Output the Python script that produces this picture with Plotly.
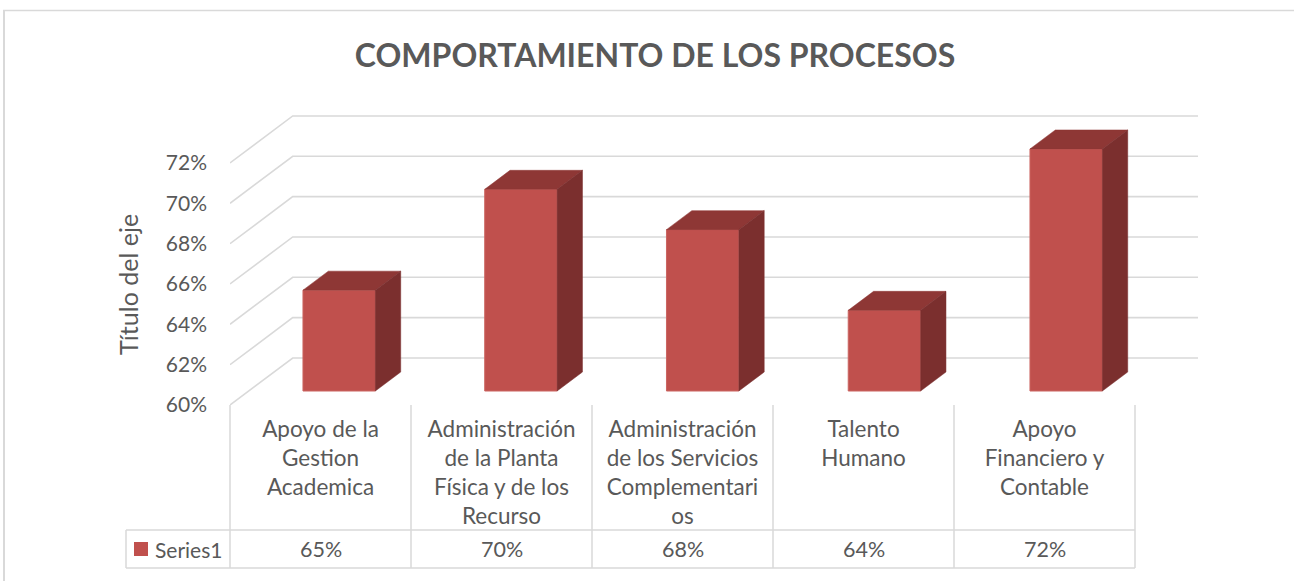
import plotly.graph_objects as go

categories = [
    "Apoyo de la<br>Gestion<br>Academica",
    "Administración<br>de la Planta<br>Física y de los<br>Recurso",
    "Administración<br>de los Servicios<br>Complementari<br>os",
    "Talento<br>Humano",
    "Apoyo<br>Financiero y<br>Contable",
]
values = [65, 70, 68, 64, 72]
value_labels = ["65%", "70%", "68%", "64%", "72%"]
y_ticks = [60, 62, 64, 66, 68, 70, 72]
y_tick_labels = ["60%", "62%", "64%", "66%", "68%", "70%", "72%"]
series_name = "Series1"

W, H = 1294, 581
ML, MR, MT, MB = 230, 96, 100, 176
PW, PH = W - ML - MR, H - MT - MB
COL = 181.0
BAR_STEP = 181.75 / COL
PCT = 20.17
DX, DY = 62.7 / COL, 47 / PCT
BAR_W = 0.4
D0, D1 = 14 / 47, 33 / 47
FONT = "Lato"
TXT = "#595959"
GRID = "#D9D9D9"


def px(x):
    return (x - ML) / PW


def py(y):
    return (H - MB - y) / PH


fig = go.Figure()

centers = [i + 0.5 for i in range(len(values))]
bar_x = [0.5 + D0 * DX + i * BAR_STEP for i in range(len(values))]
fig.add_trace(go.Bar(
    x=bar_x,
    y=[v - 60 for v in values],
    base=60 + D0 * DY,
    width=BAR_W,
    marker=dict(color="#C0504D", line=dict(color="#CB6461", width=1)),
    name=series_name, showlegend=False))

for c, v in zip(bar_x, values):
    xl = c - BAR_W / 2
    xr = xl + BAR_W
    top = v + D0 * DY
    bot = 60 + D0 * DY
    ox, oy = (D1 - D0) * DX * 1.0, (D1 - D0) * DY
    fig.add_trace(go.Scatter(
        x=[xl, xl + ox, xr + ox, xr, xl], y=[top, top + oy, top + oy, top, top],
        mode="lines", fill="toself", fillcolor="#8E3735",
        line=dict(color="#8E3735", width=0.5), showlegend=False, hoverinfo="skip"))
    fig.add_trace(go.Scatter(
        x=[xr, xr + ox, xr + ox, xr, xr], y=[top, top + oy, bot + oy, bot, top],
        mode="lines", fill="toself", fillcolor="#7B2F2E",
        line=dict(color="#7B2F2E", width=0.5), showlegend=False, hoverinfo="skip"))

shapes = []
for t in y_ticks:
    shapes.append(dict(type="path", xref="x", yref="y", layer="below",
                       path=f"M 0 {t} L {DX} {t + DY} L {PW / COL} {t + DY}",
                       line=dict(color=GRID, width=1.6)))
line = dict(color=GRID, width=1.5)
shapes.append(dict(type="line", xref="paper", yref="paper", x0=px(126), x1=px(1135),
                   y0=py(530), y1=py(530), line=line))
shapes.append(dict(type="line", xref="paper", yref="paper", x0=px(126), x1=px(1135),
                   y0=py(568), y1=py(568), line=line))
shapes.append(dict(type="line", xref="paper", yref="paper", x0=px(126), x1=px(126),
                   y0=py(530), y1=py(568), line=line))
for i in range(len(values) + 1):
    x = ML + i * COL
    shapes.append(dict(type="line", xref="paper", yref="paper", x0=px(x), x1=px(x),
                       y0=py(405), y1=py(568), line=line))
shapes.append(dict(type="rect", xref="paper", yref="paper", x0=px(134), x1=px(148),
                   y0=py(556), y1=py(542), fillcolor="#C0504D", line=dict(width=0)))
shapes.append(dict(type="line", xref="paper", yref="paper", x0=px(4), x1=px(4),
                   y0=py(10), y1=py(581), line=dict(color=GRID, width=2)))
shapes.append(dict(type="line", xref="paper", yref="paper", x0=px(3), x1=px(1294),
                   y0=py(10.5), y1=py(10.5), line=dict(color=GRID, width=1.5)))

annotations = [
    dict(x=c, xref="x", y=py(549), yref="paper", text=t, showarrow=False,
         font=dict(family=FONT, size=21.5, color=TXT), xanchor="center", yanchor="middle")
    for c, t in zip(centers, value_labels)
]
annotations.append(dict(x=px(153), xref="paper", y=py(549), yref="paper", text=series_name,
                        showarrow=False, xanchor="left", yanchor="middle",
                        font=dict(family=FONT, size=21, color=TXT)))
annotations.append(dict(x=px(128), xref="paper", y=py(285), yref="paper", text="Título del eje",
                        textangle=-90, showarrow=False, xanchor="center", yanchor="middle",
                        font=dict(family=FONT, size=25, color=TXT)))

fig.update_layout(
    width=W, height=H, autosize=False,
    margin=dict(l=ML, r=MR, t=MT, b=MB, pad=0),
    paper_bgcolor="white", plot_bgcolor="white",
    title=dict(text="<b>COMPORTAMIENTO DE LOS PROCESOS</b>", x=655 / W, xanchor="center",
               y=1 - 56 / H, yanchor="middle",
               font=dict(family=FONT, size=32, color=TXT)),
    xaxis=dict(range=[0, PW / COL], tickvals=centers, ticktext=categories, tickangle=0,
               showgrid=False, zeroline=False, showline=False, ticks="",
               ticklabelstandoff=8,
               tickfont=dict(family=FONT, size=22.5, color=TXT)),
    yaxis=dict(range=[60, 60 + PH / PCT], tickvals=y_ticks, ticktext=y_tick_labels,
               showgrid=False, zeroline=False, showline=False, ticks="",
               ticklabelstandoff=22,
               tickfont=dict(family=FONT, size=21, color=TXT)),
    shapes=shapes, annotations=annotations,
)
fig.write_html("out.html", config={"displayModeBar": False},
               post_script="document.documentElement.style.margin='0';document.body.style.margin='0';")
